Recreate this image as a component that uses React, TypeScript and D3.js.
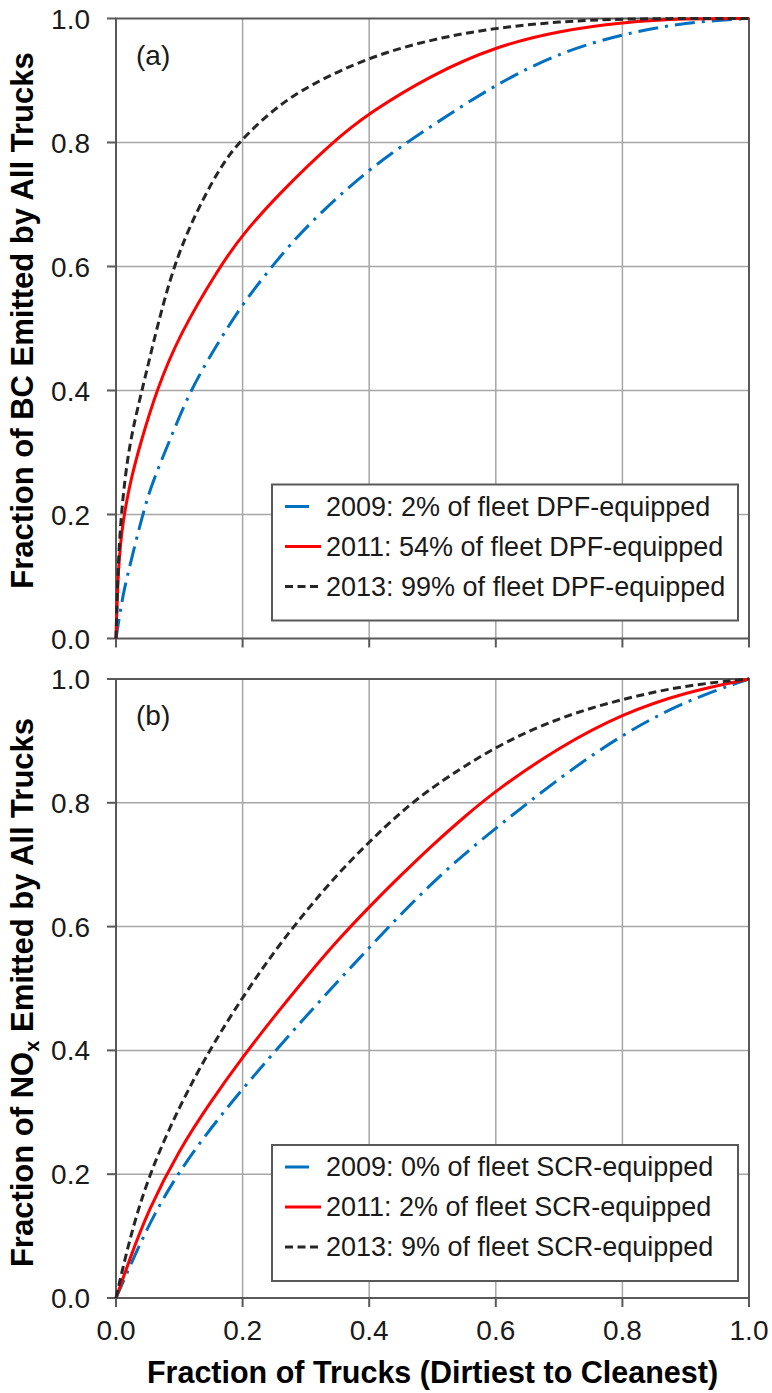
import * as d3 from "d3";

// Tick values
const xTicks = [0, 0.2, 0.4, 0.6, 0.8, 1.0];
const yTicks = [0, 0.2, 0.4, 0.6, 0.8, 1.0];

// Panel (a): black carbon, cumulative share vs fraction of trucks
const bc2009: [number, number][] = [
  [0, 0], [0.006, 0.04], [0.013, 0.08], [0.022, 0.118], [0.042, 0.2], [0.056, 0.248],
  [0.085, 0.32], [0.117, 0.4], [0.16, 0.475], [0.2, 0.54], [0.25, 0.605], [0.3, 0.665],
  [0.4, 0.759], [0.5, 0.828], [0.6, 0.894], [0.7, 0.945], [0.8, 0.975], [0.9, 0.994], [1, 1],
];
const bc2011: [number, number][] = [
  [0, 0], [0.003, 0.1], [0.008, 0.17], [0.021, 0.248], [0.04, 0.32], [0.064, 0.4],
  [0.1, 0.49], [0.164, 0.6], [0.2, 0.652], [0.26, 0.72], [0.341, 0.8], [0.4, 0.848],
  [0.5, 0.91], [0.6, 0.955], [0.7, 0.98], [0.8, 0.994], [0.9, 1], [1, 1],
];
const bc2013: [number, number][] = [
  [0, 0], [0.002, 0.08], [0.005, 0.15], [0.01, 0.22], [0.018, 0.29], [0.028, 0.345],
  [0.041, 0.4], [0.062, 0.49], [0.085, 0.58], [0.11, 0.65], [0.138, 0.71], [0.165, 0.76],
  [0.193, 0.8], [0.25, 0.855], [0.306, 0.893], [0.4, 0.938], [0.5, 0.967], [0.6, 0.985],
  [0.7, 0.995], [0.8, 1], [1, 1],
];

// Panel (b): NOx
const nox2009: [number, number][] = [
  [0, 0], [0.03, 0.07], [0.06, 0.135], [0.1, 0.205], [0.15, 0.275], [0.2, 0.338],
  [0.25, 0.397], [0.3, 0.455], [0.35, 0.511], [0.4, 0.566], [0.45, 0.62], [0.5, 0.671],
  [0.55, 0.717], [0.6, 0.759], [0.7, 0.84], [0.8, 0.911], [0.9, 0.965], [1, 1],
];
const nox2011: [number, number][] = [
  [0, 0], [0.02, 0.058], [0.05, 0.14], [0.1, 0.24], [0.15, 0.318], [0.2, 0.389],
  [0.25, 0.455], [0.3, 0.518], [0.35, 0.578], [0.4, 0.632], [0.45, 0.683], [0.5, 0.732],
  [0.55, 0.777], [0.6, 0.82], [0.7, 0.89], [0.8, 0.944], [0.9, 0.979], [1, 1],
];
const nox2013: [number, number][] = [
  [0, 0], [0.02, 0.09], [0.05, 0.195], [0.1, 0.31], [0.15, 0.405], [0.2, 0.486],
  [0.25, 0.56], [0.3, 0.625], [0.35, 0.685], [0.4, 0.737], [0.45, 0.785], [0.5, 0.826],
  [0.6, 0.892], [0.7, 0.938], [0.8, 0.968], [0.9, 0.99], [1, 1],
];

const bcLabels = [
  "2009: 2% of fleet DPF-equipped",
  "2011: 54% of fleet DPF-equipped",
  "2013: 99% of fleet DPF-equipped",
];
const noxLabels = [
  "2009: 0% of fleet SCR-equipped",
  "2011: 2% of fleet SCR-equipped",
  "2013: 9% of fleet SCR-equipped",
];

const styles = [
  { color: "#0070C0", dash: "20,7,3,7", legendDash: "24,20" },
  { color: "#FF0000", dash: "", legendDash: "" },
  { color: "#262626", dash: "8,4.5", legendDash: "8,4.5" },
];

const font = "'Liberation Sans', Arial, sans-serif";
const width = 772;
const height = 1393;
const left = 116;
const right = 749;

const xScale = d3.scaleLinear().domain([0, 1]).range([left, right]);

type PanelProps = {
  top: number;
  bottom: number;
  series: [number, number][][];
  labels: string[];
  tag: string;
  showXLabels: boolean;
};

const Panel = ({ top, bottom, series, labels, tag, showXLabels }: PanelProps) => {
  const yScale = d3.scaleLinear().domain([0, 1]).range([bottom, top]);
  const line = d3
    .line<[number, number]>()
    .x((d) => xScale(d[0]))
    .y((d) => yScale(d[1]))
    .curve(d3.curveBasis);

  const legendTop = top + 466;
  const legendLeft = 272;

  return (
    <g>
      {/* grid */}
      {xTicks.slice(1, -1).map((t) => (
        <line key={"gx" + t} x1={xScale(t)} x2={xScale(t)} y1={top} y2={bottom} stroke="#a6a6a6" strokeWidth={1.5} />
      ))}
      {yTicks.slice(1, -1).map((t) => (
        <line key={"gy" + t} x1={left} x2={right} y1={yScale(t)} y2={yScale(t)} stroke="#a6a6a6" strokeWidth={1.5} />
      ))}

      {/* frame */}
      <rect x={left} y={top} width={right - left} height={bottom - top} fill="none" stroke="#595959" strokeWidth={2} />

      {/* ticks */}
      {yTicks.map((t) => (
        <g key={"ty" + t}>
          <line x1={left - 9} x2={left} y1={yScale(t)} y2={yScale(t)} stroke="#595959" strokeWidth={2} />
          <text x={90} y={yScale(t)} dy="0.36em" textAnchor="end" fontSize={28} fontFamily={font} fill="#1a1a1a">
            {t.toFixed(1)}
          </text>
        </g>
      ))}
      {xTicks.map((t) => (
        <g key={"tx" + t}>
          <line x1={xScale(t)} x2={xScale(t)} y1={bottom} y2={bottom + 9} stroke="#595959" strokeWidth={2} />
          {showXLabels && (
            <text x={xScale(t)} y={bottom + 42} textAnchor="middle" fontSize={28} fontFamily={font} fill="#1a1a1a">
              {t.toFixed(1)}
            </text>
          )}
        </g>
      ))}

      {/* curves */}
      {series.map((s, i) => (
        <path
          key={"s" + i}
          d={line(s) ?? ""}
          fill="none"
          stroke={styles[i].color}
          strokeWidth={3}
          strokeDasharray={styles[i].dash || undefined}
        />
      ))}

      <text x={136} y={top + 46} fontSize={28} fontFamily={font} fill="#1a1a1a">
        {tag}
      </text>

      {/* legend */}
      <rect x={legendLeft} y={legendTop} width={466} height={136} fill="#fff" stroke="#595959" strokeWidth={2} />
      {labels.map((lab, i) => {
        const base = legendTop + 31 + i * 40;
        return (
          <g key={"l" + i}>
            <line
              x1={285}
              x2={321}
              y1={base - 9}
              y2={base - 9}
              stroke={styles[i].color}
              strokeWidth={3}
              strokeDasharray={styles[i].legendDash || undefined}
            />
            <text x={326} y={base} fontSize={27} fontFamily={font} fill="#1a1a1a">
              {lab}
            </text>
          </g>
        );
      })}
    </g>
  );
};

export default function App() {
  const topA = 18.5;
  const bottomA = 638.5;
  const topB = 679;
  const bottomB = 1298;
  return (
    <svg
      width={width}
      height={height}
      style={{ position: "absolute", left: 0, top: 0, background: "#fff" }}
    >
      <rect width={width} height={height} fill="#fff" />
      <Panel top={topA} bottom={bottomA} series={[bc2009, bc2011, bc2013]} labels={bcLabels} tag="(a)" showXLabels={false} />
      <Panel top={topB} bottom={bottomB} series={[nox2009, nox2011, nox2013]} labels={noxLabels} tag="(b)" showXLabels={true} />

      <text
        transform={`translate(33, ${(topA + bottomA) / 2 - 8}) rotate(-90)`}
        textAnchor="middle"
        fontSize={31}
        fontWeight="bold"
        fontFamily={font}
        fill="#000"
      >
        Fraction of BC Emitted by All Trucks
      </text>
      <text
        transform={`translate(33, ${(topB + bottomB) / 2 + 4}) rotate(-90)`}
        textAnchor="middle"
        fontSize={31}
        fontWeight="bold"
        fontFamily={font}
        fill="#000"
      >
        Fraction of NO
        <tspan fontSize={20} dy={6}>x</tspan>
        <tspan dy={-6}> Emitted by All Trucks</tspan>
      </text>
      <text
        x={(left + right) / 2}
        y={1383}
        textAnchor="middle"
        fontSize={30.5}
        fontWeight="bold"
        fontFamily={font}
        fill="#000"
      >
        Fraction of Trucks (Dirtiest to Cleanest)
      </text>
    </svg>
  );
}
